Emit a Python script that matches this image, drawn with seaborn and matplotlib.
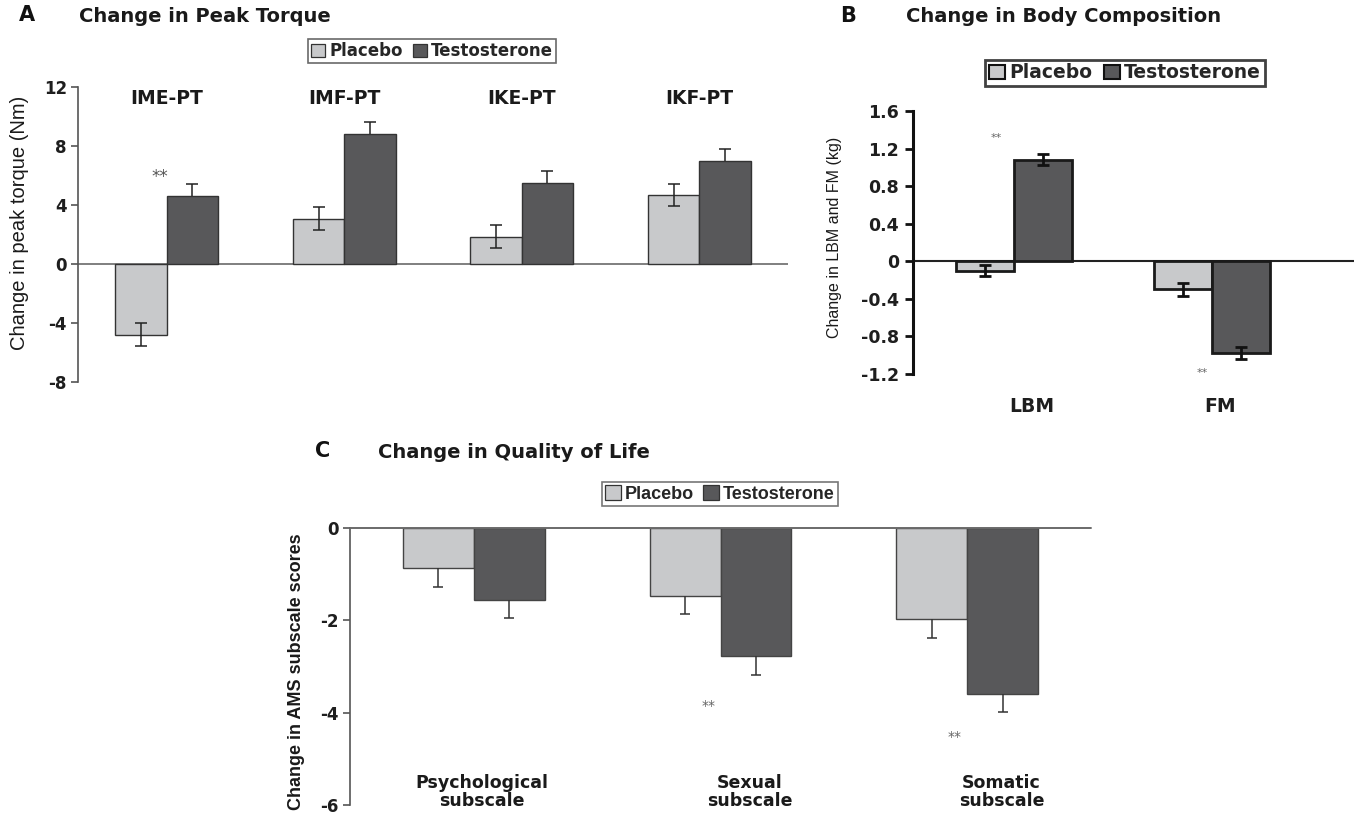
import matplotlib
matplotlib.use("Agg")
import matplotlib.pyplot as plt
import matplotlib.font_manager as fm
import matplotlib.transforms as mtrans
from matplotlib.patches import Patch
import seaborn as sns
import pandas as pd
import numpy as np

# ---------------- data ----------------
groups = ["Placebo", "Testosterone"]

a_cats = ["IME-PT", "IMF-PT", "IKE-PT", "IKF-PT"]
a_placebo = [-4.78, 3.07, 1.86, 4.68]
a_testo = [4.62, 8.80, 5.48, 6.98]
a_placebo_se = [0.80, 0.77, 0.78, 0.77]
a_testo_se = [0.80, 0.80, 0.82, 0.82]

b_cats = ["LBM", "FM"]
b_placebo = [-0.10, -0.30]
b_testo = [1.08, -0.98]
b_placebo_se = [0.06, 0.07]
b_testo_se = [0.06, 0.065]

c_cats = ["Psychological\nsubscale", "Sexual\nsubscale", "Somatic\nsubscale"]
c_placebo = [-0.87, -1.48, -1.98]
c_testo = [-1.57, -2.78, -3.59]
c_placebo_se = [0.41, 0.39, 0.40]
c_testo_se = [0.39, 0.40, 0.39]

a_yticks = [-8, -4, 0, 4, 8, 12]
b_yticks = [-1.2, -0.8, -0.4, 0, 0.4, 0.8, 1.2, 1.6]
b_yticklabels = ["-1.2", "-0.8", "-0.4", "0", "0.4", "0.8", "1.2", "1.6"]
c_yticks = [-6, -4, -2, 0]

LIGHT = "#c8c9cb"
DARK = "#58585a"

# ---------------- style ----------------
sns.set_theme(style="white")
available = {f.name for f in fm.fontManager.ttflist}
SANS = "Liberation Sans" if "Liberation Sans" in available else "DejaVu Sans"
WIDE = "DejaVu Sans"
plt.rcParams["font.family"] = [WIDE, "DejaVu Sans"]

W, H = 1354, 816
fig = plt.figure(figsize=(W / 100, H / 100), dpi=100)


def px_axes(left, top, right, bottom):
    return fig.add_axes([left / W, 1 - bottom / H, (right - left) / W, (bottom - top) / H])


def make_df(cats, p, t):
    return pd.DataFrame({
        "cat": cats * 2,
        "val": list(p) + list(t),
        "grp": [groups[0]] * len(cats) + [groups[1]] * len(cats),
    })


def draw_bars(ax, cats, p, t, width, edge, lw):
    df = make_df(cats, p, t)
    sns.barplot(data=df, x="cat", y="val", hue="grp", order=cats, hue_order=groups,
                palette=[LIGHT, DARK], width=width, errorbar=None, edgecolor=edge,
                linewidth=lw, ax=ax, legend=False, saturation=1)


def draw_err(ax, values_list, se_list, mode_list, color, lw, capsize):
    # containers: one per hue level
    for cont, vals, ses, mode in zip(ax.containers, values_list, se_list, mode_list):
        xs = np.array([r.get_x() + r.get_width() / 2 for r in cont.patches])
        vals = np.array(vals)
        ses = np.array(ses)
        if mode == "both":
            ax.errorbar(xs, vals, yerr=ses, fmt="none", ecolor=color, elinewidth=lw,
                        capsize=capsize, capthick=lw, zorder=5)
        else:
            ends = vals + np.sign(vals) * ses
            ax.vlines(xs, vals, ends, colors=color, linewidth=lw, zorder=5)
            ax.plot(xs, ends, ls="none", marker="_", markersize=capsize * 2,
                    markeredgewidth=lw, color=color, zorder=5)


def legend_at(cx, cy, fontsize, edge, elw, family, handle_edge, handle_lw, colsp=0.6):
    handles = [Patch(facecolor=LIGHT, edgecolor=handle_edge, linewidth=handle_lw),
               Patch(facecolor=DARK, edgecolor=handle_edge, linewidth=handle_lw)]
    leg = fig.legend(handles, groups, loc="center", bbox_to_anchor=(cx / W, 1 - cy / H),
                     bbox_transform=fig.transFigure, ncol=2, frameon=True, fancybox=False,
                     handlelength=0.85, handleheight=0.85, handletextpad=0.25,
                     columnspacing=colsp, borderpad=0.2, borderaxespad=0,
                     prop={"family": family, "weight": "bold", "size": fontsize})
    fr = leg.get_frame()
    fr.set_edgecolor(edge)
    fr.set_linewidth(elw)
    fr.set_facecolor("white")
    return leg


TICKC = "#1e1e1e"

# ================= Panel A =================
axA = px_axes(78, 87, 788, 382)
draw_bars(axA, a_cats, a_placebo, a_testo, 0.58, "#333333", 1.0)
draw_err(axA, [a_placebo, a_testo], [a_placebo_se, a_testo_se], ["both", "away"],
         "#222222", 1.1, 4.5)
axA.set_xlim(-0.5, 3.5)
axA.set_ylim(-8, 12)
axA.set_yticks(a_yticks)
axA.set_yticklabels([str(v) for v in a_yticks])
axA.axhline(0, color="#6a6a6a", lw=1.2, zorder=0.5)
for s in ["top", "right", "bottom"]:
    axA.spines[s].set_visible(False)
axA.spines["left"].set_color("#555555")
axA.spines["left"].set_linewidth(1.2)
axA.set_xticks([])
axA.set_xlabel("")
axA.set_ylabel("")
axA.tick_params(axis="y", direction="out", length=5, width=1.2, color="#555555",
                labelsize=12, labelcolor=TICKC, pad=3, left=True)
for lab in axA.get_yticklabels():
    lab.set_fontweight("bold")
for i, c in enumerate(a_cats):
    axA.text(i, 11.25, c, ha="center", va="center", fontsize=13.5, fontweight="bold",
             color="#1a1a1a")
axA.text(-0.04, 5.9, "**", ha="center", va="center", fontsize=12, color="#555555")
axA.text(-0.082, 0.54, "Change in peak torque (Nm)", transform=axA.transAxes, rotation=90,
         ha="center", va="center", fontsize=14.5, family=SANS, color="#1a1a1a")
fig.text(19 / W, 1 - 15 / H, "A", fontsize=15, fontweight="bold", ha="left", va="center",
         color="#111111")
fig.text(79 / W, 1 - 16 / H, "Change in Peak Torque", fontsize=14, fontweight="bold",
         ha="left", va="center", color="#1a1a1a")
legend_at(432, 51, 12, "#444444", 1.2, WIDE, "#333333", 0.9)

# ================= Panel B =================
axB = px_axes(913, 111, 1354, 374)
draw_bars(axB, b_cats, b_placebo, b_testo, 0.586, "#1a1a1a", 2.0)
draw_err(axB, [b_placebo, b_testo], [b_placebo_se, b_testo_se], ["both", "both"],
         "#111111", 2.0, 4.0)
axB.set_xlim(-0.51, 1.717)
axB.set_ylim(-1.2, 1.6)
axB.set_yticks(b_yticks)
axB.set_yticklabels(b_yticklabels)
axB.axhline(0, color="#222222", lw=1.5, zorder=0.5)
for s in ["top", "right", "bottom"]:
    axB.spines[s].set_visible(False)
axB.spines["left"].set_color("#111111")
axB.spines["left"].set_linewidth(2.2)
axB.tick_params(axis="y", direction="out", length=6, width=2.0, color="#111111",
                labelsize=12.5, labelcolor=TICKC, pad=4, left=True)
for lab in axB.get_yticklabels():
    lab.set_fontweight("bold")
axB.set_xticks([])
axB.set_xlabel("")
axB.set_ylabel("")
blendB = mtrans.blended_transform_factory(axB.transData, axB.transAxes)
b_label_shift = [0.09, 0.04]
for i, c in enumerate(b_cats):
    axB.text(i + b_label_shift[i], -0.122, c, transform=blendB, ha="center", va="center",
             fontsize=13.5, fontweight="bold", color=TICKC, clip_on=False)
axB.text(-0.09, 1.31, "**", ha="center", va="center", fontsize=8, color="#666666")
axB.text(0.95, -1.19, "**", ha="center", va="center", fontsize=8, color="#666666")
axB.text(-0.178, 0.52, "Change in LBM and FM (kg)", transform=axB.transAxes, rotation=90,
         ha="center", va="center", fontsize=11.5, family=SANS, color="#1a1a1a")
fig.text(840 / W, 1 - 16 / H, "B", fontsize=15, fontweight="bold", ha="left", va="center",
         color="#111111")
fig.text(906 / W, 1 - 17 / H, "Change in Body Composition", fontsize=14,
         fontweight="bold", ha="left", va="center", color="#1a1a1a")
legend_at(1125, 73, 13.5, "#111111", 2.0, WIDE, "#111111", 1.5)

# ================= Panel C =================
axC = px_axes(350, 528, 1091, 805)
draw_bars(axC, c_cats, c_placebo, c_testo, 0.576, "#444444", 1.0)
draw_err(axC, [c_placebo, c_testo], [c_placebo_se, c_testo_se], ["away", "away"],
         "#333333", 1.1, 3.5)
axC.set_xlim(-0.503, 2.503)
axC.set_ylim(-6, 0)
axC.set_yticks(c_yticks)
axC.set_yticklabels([str(v) for v in c_yticks])
axC.axhline(0, color="#6a6a6a", lw=1.4, zorder=6, clip_on=False)
for s in ["top", "right", "bottom"]:
    axC.spines[s].set_visible(False)
axC.spines["left"].set_color("#555555")
axC.spines["left"].set_linewidth(1.2)
axC.set_xticks([])
axC.set_xlabel("")
axC.set_ylabel("")
axC.tick_params(axis="y", direction="out", length=5, width=1.2, color="#555555",
                labelsize=12, labelcolor=TICKC, pad=3, left=True)
for lab in axC.get_yticklabels():
    lab.set_fontweight("bold")
c_label_shift = [0.03, 0.12, 0.14]
for i, c in enumerate(c_cats):
    axC.text(i + c_label_shift[i], -5.72, c, ha="center", va="center", fontsize=12.5,
             fontweight="bold", color="#1a1a1a", linespacing=1.0)
axC.text(0.95, -3.86, "**", ha="center", va="center", fontsize=10, color="#666666")
axC.text(1.95, -4.52, "**", ha="center", va="center", fontsize=10, color="#666666")
axC.text(-0.072, 0.48, "Change in AMS subscale scores", transform=axC.transAxes,
         rotation=90, ha="center", va="center", fontsize=13, family=SANS,
         fontweight="bold", color="#1a1a1a")
fig.text(315 / W, 1 - 451 / H, "C", fontsize=15, fontweight="bold", ha="left",
         va="center", color="#111111")
fig.text(378 / W, 1 - 453 / H, "Change in Quality of Life", fontsize=14,
         fontweight="bold", ha="left", va="center", color="#1a1a1a")
legend_at(720, 494, 13, "#555555", 1.2, SANS, "#333333", 0.9, colsp=0.5)

fig.savefig("out.png", dpi=100, facecolor="white")
